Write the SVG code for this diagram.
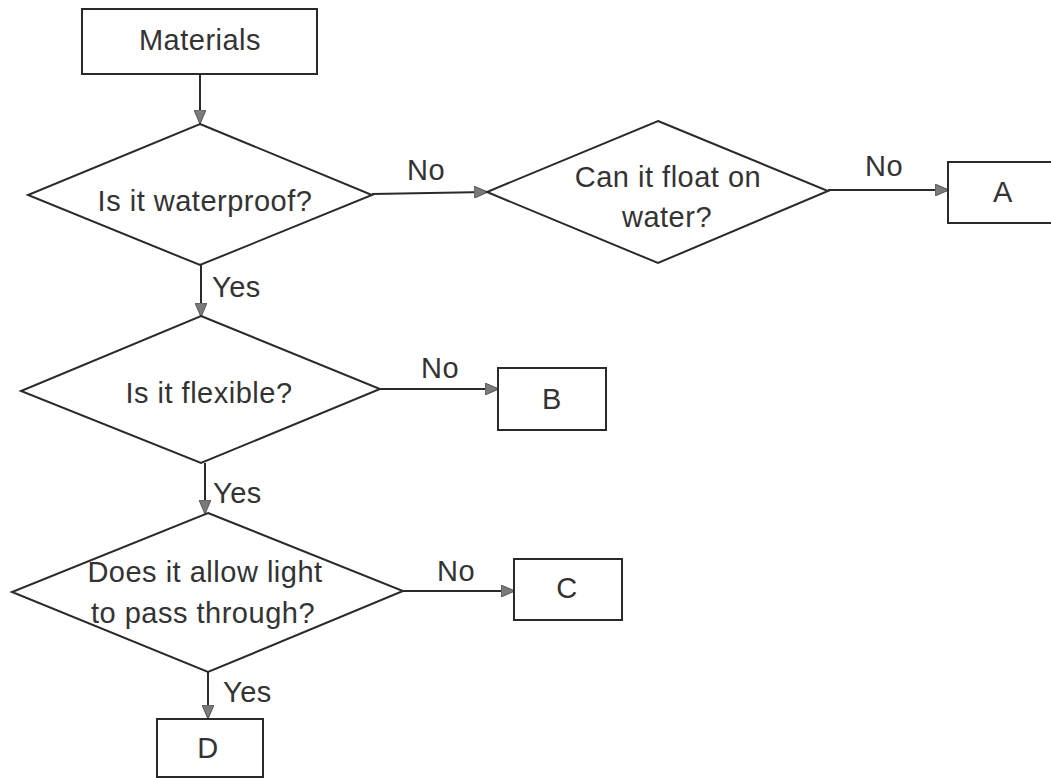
<svg xmlns="http://www.w3.org/2000/svg" width="1051" height="778" viewBox="0 0 1051 778">
<defs>
<style>
.box{fill:#fff;stroke:#2a2a2a;stroke-width:2}
.dia{fill:#fff;stroke:#2a2a2a;stroke-width:2}
.t{font-family:"Liberation Sans",Arial,sans-serif;font-size:29px;letter-spacing:0.5px;fill:#333}
.m{text-anchor:middle}
.c{fill:none;stroke:#2a2a2a;stroke-width:2}
</style>
<marker id="ah" markerWidth="14" markerHeight="12" refX="13" refY="6" orient="auto" markerUnits="userSpaceOnUse">
<path d="M0,0 L14,6 L0,12 Z" fill="#7a7a7a" stroke="#555" stroke-width="1"/>
</marker>
</defs>
<rect width="1051" height="778" fill="#fff"/>
<g id="connectors">
<line class="c" x1="200" y1="74" x2="200" y2="123" marker-end="url(#ah)"/>
<line class="c" x1="372" y1="194" x2="487" y2="192" marker-end="url(#ah)"/>
<line class="c" x1="828" y1="190" x2="948" y2="190" marker-end="url(#ah)"/>
<line class="c" x1="201" y1="265" x2="201" y2="316" marker-end="url(#ah)"/>
<line class="c" x1="380" y1="389" x2="498" y2="389" marker-end="url(#ah)"/>
<line class="c" x1="205" y1="463" x2="205" y2="513" marker-end="url(#ah)"/>
<line class="c" x1="403" y1="591" x2="514" y2="591" marker-end="url(#ah)"/>
<line class="c" x1="208" y1="672" x2="208" y2="718" marker-end="url(#ah)"/>
<text class="t m" x="426" y="180">No</text>
<text class="t m" x="884" y="176">No</text>
<text class="t" x="212" y="297">Yes</text>
<text class="t m" x="440" y="378">No</text>
<text class="t" x="213" y="503">Yes</text>
<text class="t m" x="456" y="581">No</text>
<text class="t" x="223" y="702">Yes</text>
</g>
<g id="materials">
<rect class="box" x="82" y="9" width="235" height="65"/>
<text class="t m" x="200" y="50">Materials</text>
</g>
<g id="waterproof">
<polygon class="dia" points="200,124 372,195 200,265 28,195"/>
<text class="t m" x="205" y="211">Is it waterproof?</text>
</g>
<g id="float">
<polygon class="dia" points="658,121 828,191 658,263 487,192"/>
<text class="t m" x="668" y="187">Can it float on</text>
<text class="t m" x="667" y="227">water?</text>
</g>
<g id="boxA">
<rect class="box" x="948" y="162" width="112" height="61"/>
<text class="t m" x="1003" y="202">A</text>
</g>
<g id="flexible">
<polygon class="dia" points="201,316 380,389 201,463 21,391"/>
<text class="t m" x="209" y="403">Is it flexible?</text>
</g>
<g id="boxB">
<rect class="box" x="498" y="368" width="108" height="62"/>
<text class="t m" x="552" y="409">B</text>
</g>
<g id="light">
<polygon class="dia" points="208,513 403,591 208,672 12,592"/>
<text class="t m" x="205" y="582">Does it allow light</text>
<text class="t m" x="203" y="623">to pass through?</text>
</g>
<g id="boxC">
<rect class="box" x="514" y="559" width="108" height="61"/>
<text class="t m" x="567" y="598">C</text>
</g>
<g id="boxD">
<rect class="box" x="157" y="719" width="106" height="58"/>
<text class="t m" x="208" y="758">D</text>
</g>
</svg>
